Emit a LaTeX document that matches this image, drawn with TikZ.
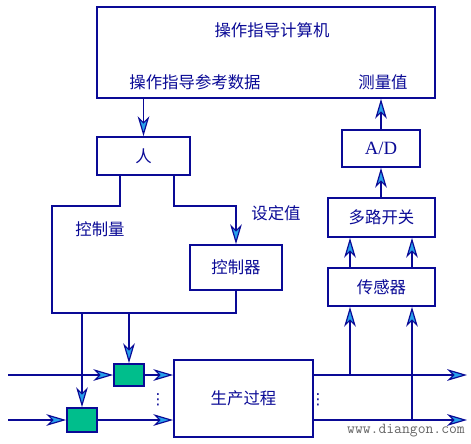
\documentclass[tikz,border=0pt]{standalone}
\usepackage{fontspec}
\setmainfont{Liberation Serif}
\newfontfamily\cjk{Noto Sans CJK SC}
\newfontfamily\symf{DejaVu Sans}
\usepackage{tikz}
\usetikzlibrary{arrows.meta,positioning,calc}
\definecolor{navy}{RGB}{10,10,150}
\definecolor{tipfill}{RGB}{40,160,235}
\definecolor{valvegreen}{RGB}{0,190,140}

\begin{document}
\begin{tikzpicture}[
    x=0.03cm, y=-0.03cm,
    every node/.style={font=\cjk\fontsize{14}{16}\selectfont, text=navy},
    block/.style={rectangle, draw=navy, line width=1.5pt, inner sep=0pt},
    valve/.style={block, fill=valvegreen, minimum width=0.9cm},
    line/.style={draw=navy, line width=1.5pt},
    arrow/.style={line, -{Stealth[length=17pt, width=10pt, inset=5pt, line width=1pt, fill=tipfill]}}
]
    \fill[white] (0,0) rectangle (471,443);
    \useasboundingbox (0,0) rectangle (471,443);

    % Nodes
    \node[block, minimum width=10.14cm, minimum height=2.73cm] (comp) at (266,52.5) {};
    \node (title) at (272,30) {操作指导计算机};
    \node (guide) at (195,82) {操作指导参考数据};
    \node (meas) at (383,82) {测量值};
    \node[block, minimum width=2.79cm, minimum height=1.14cm] (ren) at (143.5,156) {人};
    \node[block, minimum width=2.76cm, minimum height=1.35cm] (ctrl) at (236,267.5) {控制器};
    \node[block, minimum width=2.34cm, minimum height=1.11cm, font=\fontsize{16}{18}\selectfont] (ad) at (381,148.5) {A/D};
    \node[block, minimum width=3.21cm, minimum height=1.17cm] (mux) at (381.5,217.5) {多路开关};
    \node[block, minimum width=3.21cm, minimum height=1.14cm] (sensor) at (381.5,287) {传感器};
    \node[block, minimum width=4.17cm, minimum height=2.31cm] (proc) at (243.5,398.5) {生产过程};
    \node[valve, minimum height=0.66cm] (v1) at (129,375) {};
    \node[valve, minimum height=0.72cm] (v2) at (82,420) {};

    % Labels
    \node (qty) at (100,229) {控制量};
    \node (setp) at (276,213) {设定值};
    \node[font=\symf\fontsize{13}{15}\selectfont] (dotsL) at (158,400) {⋮};
    \node[font=\symf\fontsize{13}{15}\selectfont] (dotsR) at (318,400) {⋮};
    \node[text=black!60, font=\ttfamily\fontsize{13}{15}\selectfont] (mark) at (406,431) {www.diangon.com};

    % Corners and free ends
    \coordinate (in1) at (8,375);
    \coordinate (in2) at (8,420);
    \coordinate (out1) at (467,375);
    \coordinate (out2) at (467,420);
    \coordinate (tapA) at (350,375);
    \coordinate (tapB) at (412,420);
    \coordinate (qa) at (120,206);
    \coordinate (qb) at (52,313);
    \coordinate (sa) at (174,206);

    % Arrows
    \draw[arrow] (comp.south -| ren.north) -- (ren.north);
    \draw[arrow] (ad.north) -- (ad.north |- comp.south);
    \draw[arrow] (mux.north -| ad.north) -- (ad.south);
    \draw[arrow] (sensor.north -| tapA) -- (mux.south -| tapA);
    \draw[arrow] (sensor.north -| tapB) -- (mux.south -| tapB);
    \draw[line] (ren.south -| qa) -- (qa) -| (qb) -| (ctrl.south);
    \draw[arrow] (ren.south -| sa) -- (sa) -| (ctrl.north);
    \draw[arrow] (qb -| v2.north) -- (v2.north);
    \draw[arrow] (qb -| v1.north) -- (v1.north);
    \draw[arrow] (in1) -- (v1.west);
    \draw[arrow] (in2) -- (v2.west);
    \draw[arrow] (v1.east) -- (v1.east -| proc.west);
    \draw[arrow] (v2.east) -- (v2.east -| proc.west);
    \draw[arrow] (out1 -| proc.east) -- (out1);
    \draw[arrow] (out2 -| proc.east) -- (out2);
    \draw[arrow] (tapA) -- (sensor.south -| tapA);
    \draw[arrow] (tapB) -- (sensor.south -| tapB);

\end{tikzpicture}
\end{document}
